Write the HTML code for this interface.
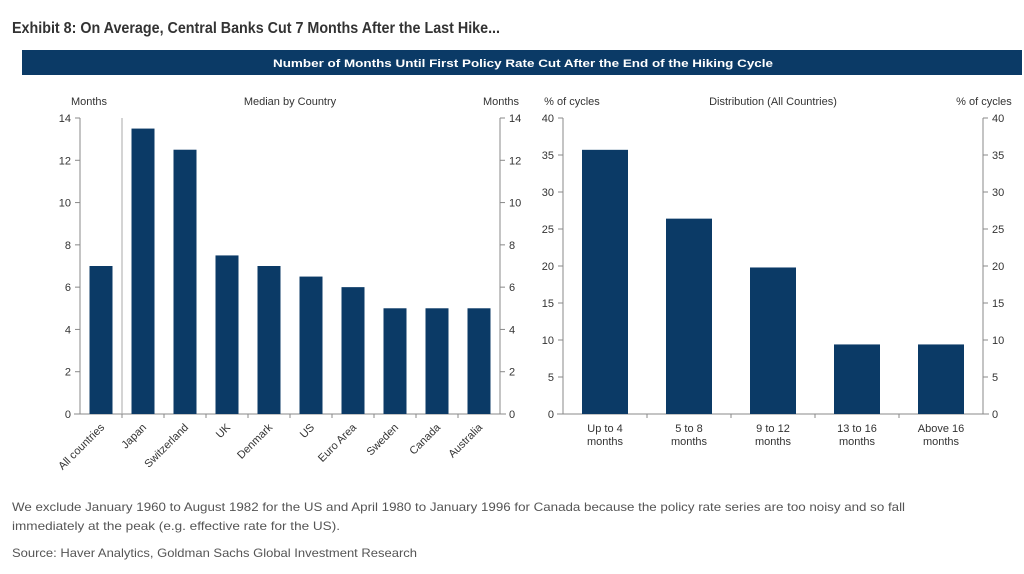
<!DOCTYPE html>
<html><head><meta charset="utf-8"><style>
body{margin:0;background:#fff;width:1024px;height:569px;overflow:hidden;font-family:"Liberation Sans",sans-serif}
svg text{font-family:"Liberation Sans",sans-serif}
</style></head><body>
<svg id="c" width="1024" height="569" xmlns="http://www.w3.org/2000/svg">
<text x="12" y="33" font-size="16" font-weight="bold" fill="#333" textLength="488" lengthAdjust="spacingAndGlyphs">Exhibit 8: On Average, Central Banks Cut 7 Months After the Last Hike...</text>
<rect x="22" y="50" width="1000" height="25" fill="#0b3a66"/>
<text x="273" y="67" font-size="11" font-weight="bold" fill="#fff" textLength="500" lengthAdjust="spacingAndGlyphs">Number of Months Until First Policy Rate Cut After the End of the Hiking Cycle</text>
<g id="L"></g><g id="R"></g>
<text x="12" y="511" font-size="12" fill="#555" textLength="893" lengthAdjust="spacingAndGlyphs">We exclude January 1960 to August 1982 for the US and April 1980 to January 1996 for Canada because the policy rate series are too noisy and so fall</text>
<text x="12" y="530" font-size="12" fill="#555" textLength="328" lengthAdjust="spacingAndGlyphs">immediately at the peak (e.g. effective rate for the US).</text>
<text x="12" y="557" font-size="12" fill="#555" textLength="405" lengthAdjust="spacingAndGlyphs">Source: Haver Analytics, Goldman Sachs Global Investment Research</text>
</svg>
<script>
const countries=["All countries","Japan","Switzerland","UK","Denmark","US","Euro Area","Sweden","Canada","Australia"];
const months=[7,13.5,12.5,7.5,7,6.5,6,5,5,5];
const leftTicks=[0,2,4,6,8,10,12,14];
const buckets=[["Up to 4","months"],["5 to 8","months"],["9 to 12","months"],["13 to 16","months"],["Above 16","months"]];
const shares=[35.7,26.4,19.8,9.4,9.4];
const rightTicks=[0,5,10,15,20,25,30,35,40];
const NS="http://www.w3.org/2000/svg";
function mk(p,t,a,txt){const e=document.createElementNS(NS,t);for(const k in a)e.setAttribute(k,a[k]);if(txt!=null)e.textContent=txt;p.appendChild(e);return e;}
const Y0=414,Y1=118;
function panel(g,x0,x1,ymax,ticks,cats,vals,bw,ltitle,ctitle,rtitle,rot){
  const y=v=>Y0-(v/ymax)*(Y0-Y1);
  const step=(x1-x0)/cats.length;
  const xc=i=>x0+step*(i+0.5);
  let e;
  e=mk(g,'line',{x1:x0,y1:Y1,x2:x0,y2:Y0,stroke:'#888'});
  e=mk(g,'line',{x1:x1,y1:Y1,x2:x1,y2:Y0,stroke:'#888'});
  e=mk(g,'line',{x1:x0-6,y1:Y0,x2:x1+6,y2:Y0,stroke:'#888'});
  ticks.forEach(t=>{
    mk(g,'line',{x1:x0-5,y1:y(t),x2:x0,y2:y(t),stroke:'#888'});
    mk(g,'line',{x1:x1,y1:y(t),x2:x1+5,y2:y(t),stroke:'#888'});
    e=mk(g,'text',{x:x0-9,y:y(t)+4,'font-size':11,fill:'#333','text-anchor':'end'},t);
    
    e=mk(g,'text',{x:x1+9,y:y(t)+4,'font-size':11,fill:'#333'},t);
    
  });
  for(let i=1;i<cats.length;i++)mk(g,'line',{x1:x0+step*i,y1:Y0,x2:x0+step*i,y2:Y0+4,stroke:'#888'});
  vals.forEach((v,i)=>{
    e=mk(g,'rect',{x:xc(i)-bw/2,y:y(v),width:bw,height:Y0-y(v),fill:'#0b3a66'});
    
  });
  cats.forEach((c,i)=>{
    if(rot){
      e=mk(g,'text',{transform:`translate(${xc(i)+4},${Y0+14}) rotate(-45)`,'font-size':11,fill:'#333','text-anchor':'end'},c);
    }else{
      e=mk(g,'text',{x:xc(i),y:Y0+18,'font-size':11,fill:'#333','text-anchor':'middle'});
      c.forEach((l,j)=>mk(e,'tspan',{x:xc(i),dy:j?13:0},l));
    }
    
  });
  e=mk(g,'text',{x:x0+9,y:105,'font-size':11,fill:'#333','text-anchor':'middle'},ltitle);
  e=mk(g,'text',{x:x1+1,y:105,'font-size':11,fill:'#333','text-anchor':'middle'},rtitle);
  e=mk(g,'text',{x:(x0+x1)/2,y:105,'font-size':11,fill:'#333','text-anchor':'middle'},ctitle);
  return step;
}
const L=document.getElementById('L'),R=document.getElementById('R');
const st=panel(L,80,500,14,leftTicks,countries,months,23,'Months','Median by Country','Months',true);
const sep=mk(L,'line',{x1:80+st,y1:Y1,x2:80+st,y2:Y0,stroke:'#aaa'});


panel(R,563,983,40,rightTicks,buckets,shares,46,'% of cycles','Distribution (All Countries)','% of cycles',false);
</script>
</body></html>
